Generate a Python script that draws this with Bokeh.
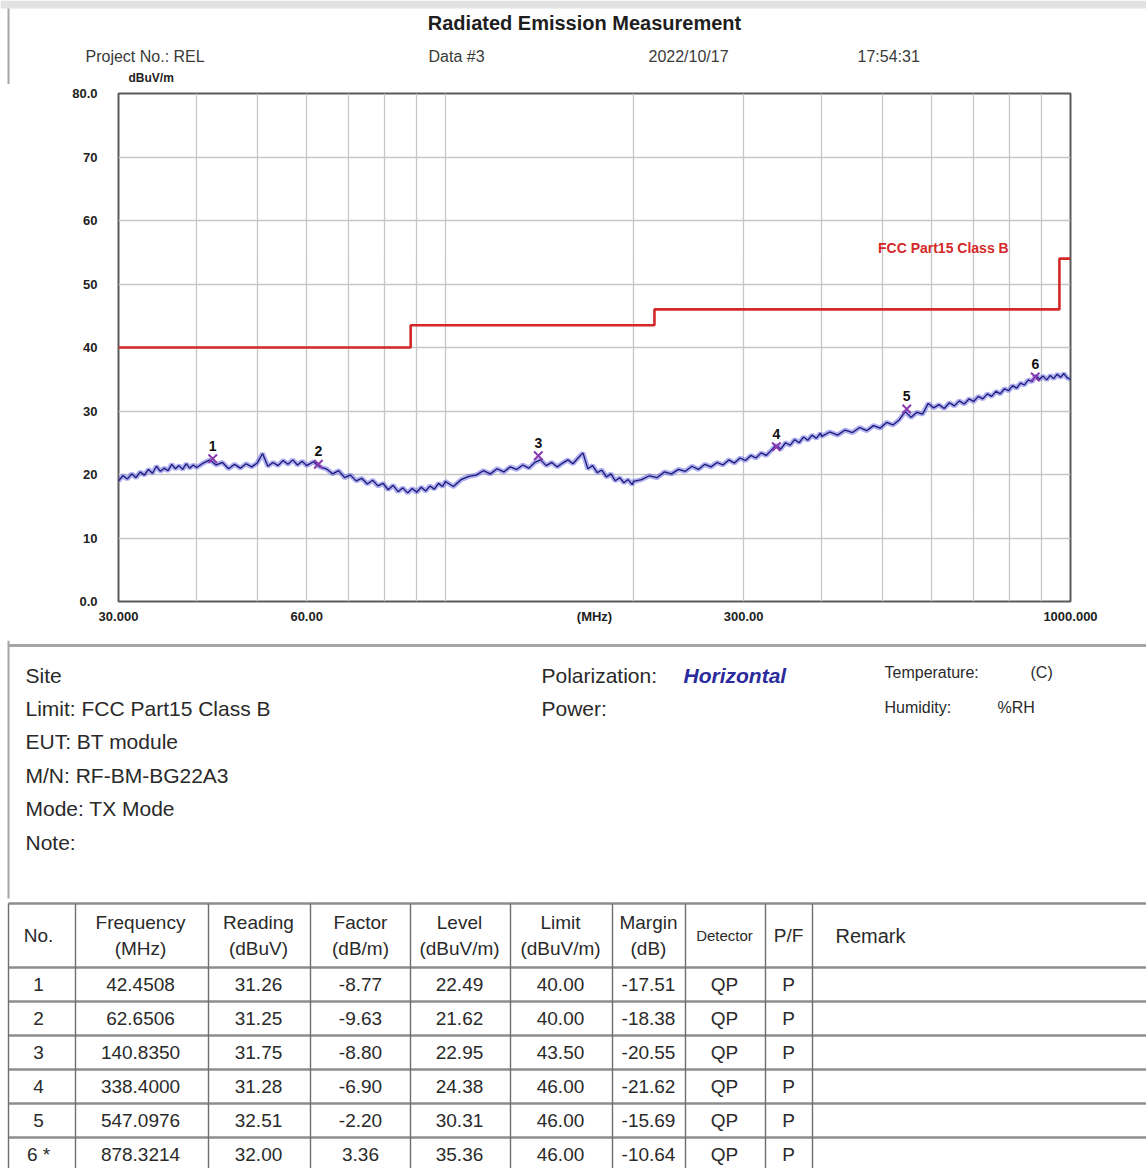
from bokeh.plotting import figure
from bokeh.models import FixedTicker, Label, Range1d, ColumnDataSource
from bokeh.layouts import column
from bokeh.embed import file_html
from bokeh.resources import INLINE
from bokeh.core.properties import value

# ---------------- data ----------------
trace_freq_mhz = [
    30, 30.5, 31, 31.5, 32, 32.5, 33, 33.5, 34, 34.5, 35, 35.5, 36, 36.5, 37, 37.5, 38, 38.5, 39, 39.5,
    40, 41, 42, 43, 44, 45, 46, 47, 48, 49, 50, 51, 52, 53, 54, 55, 56, 57, 58, 59,
    60, 61.5, 63, 64.5, 66, 67.5, 69, 70.5, 72, 73.5, 75, 76.5, 78, 79.5, 81, 82.5, 84, 85.5, 87, 88.5,
    90, 91.5, 93, 94.5, 96, 97.5, 99,
    100, 103, 106, 109, 112, 115, 118, 121, 124, 127, 130, 133, 136, 139, 142, 145, 148, 151, 154, 157,
    160, 163, 166, 169, 172, 175, 178, 181, 184, 187, 190, 193, 196, 199,
    200, 206, 212, 218, 224, 230, 236, 242, 248, 254, 260, 266, 272, 278, 284, 290, 296, 302, 308, 314,
    320, 326, 332, 338, 344, 350, 356, 362, 368, 374, 380, 386, 392, 398,
    400, 412, 424, 436, 448, 460, 472, 484, 496, 508, 520, 532, 544, 556, 568, 580, 592, 604, 616, 628,
    640, 652, 664, 676, 688, 700, 712, 724, 736, 748, 760, 772, 784, 796, 808, 820, 832, 844, 856, 868,
    880, 892, 904, 916, 928, 940, 952, 964, 976, 988, 1000,
]
trace_level_dbuv_m = [
    19.0, 19.8, 19.3, 20.1, 19.5, 20.4, 19.9, 20.8, 20.2, 21.3, 20.5, 21.0, 20.6, 21.6, 20.9, 21.4, 20.8, 21.7, 21.0, 21.5,
    21.1, 21.8, 22.3, 21.5, 21.9, 20.9, 21.6, 21.0, 21.7, 21.2, 21.8, 23.3, 21.3, 21.9, 21.4, 22.2, 21.6, 22.3, 21.5, 22.1,
    21.4, 22.0, 21.2, 20.9, 20.1, 20.6, 19.5, 19.9, 19.0, 19.4, 18.5, 19.1, 18.2, 18.6, 17.6, 18.3, 17.3, 17.9, 17.1, 17.8,
    17.2, 18.0, 17.4, 18.2, 17.7, 18.6, 18.1,
    18.9, 18.1, 19.2, 19.7, 19.9, 20.6, 20.1, 20.9, 20.4, 21.2, 20.8, 21.5, 21.0, 21.9, 22.3, 21.4, 21.9, 21.2, 21.8, 22.3,
    21.7, 22.6, 23.4, 20.9, 21.4, 20.3, 20.7, 19.6, 20.1, 19.0, 19.5, 18.7, 19.2, 18.4,
    18.9, 19.2, 19.8, 19.5, 20.4, 20.1, 20.8, 20.5, 21.3, 20.8, 21.6, 21.2, 21.9, 21.5, 22.3, 21.8, 22.6, 22.2, 23.0, 22.6,
    23.4, 23.0, 23.8, 24.6, 24.0, 25.0, 24.6, 25.5, 25.0, 25.9, 25.4, 26.2, 25.7, 26.5,
    26.0, 26.7, 26.2, 27.0, 26.6, 27.4, 26.9, 27.7, 27.3, 28.2, 27.8, 28.6, 29.9, 29.0, 29.8, 29.5, 31.2, 30.5, 31.0, 30.4,
    31.3, 30.8, 31.6, 31.1, 31.9, 31.5, 32.3, 31.9, 32.7, 32.3, 33.1, 32.7, 33.5, 33.2, 34.0, 33.6, 34.4, 34.1, 34.9, 34.6,
    35.6, 35.0, 35.5, 34.9, 35.6, 35.1, 35.8, 35.3, 35.9, 35.2, 35.0,
]

limit_edges_mhz = [30, 88, 216, 960, 1000]
limit_levels_dbuv_m = [40.0, 43.5, 46.0, 54.0, 54.0]
limit_name = "FCC Part15 Class B"

marker_ids = ["1", "2", "3", "4", "5", "6"]
table_no = ["1", "2", "3", "4", "5", "6 *"]
marker_freq_mhz = [42.4508, 62.6506, 140.8350, 338.4000, 547.0976, 878.3214]
marker_reading = [31.26, 31.25, 31.75, 31.28, 32.51, 32.00]
marker_factor = [-8.77, -9.63, -8.80, -6.90, -2.20, 3.36]
marker_level = [22.49, 21.62, 22.95, 24.38, 30.31, 35.36]
marker_limit = [40.00, 40.00, 43.50, 46.00, 46.00, 46.00]
marker_margin = [-17.51, -18.38, -20.55, -21.62, -15.69, -10.64]
marker_detector = ["QP", "QP", "QP", "QP", "QP", "QP"]
marker_pf = ["P", "P", "P", "P", "P", "P"]

x_tick_values = [30, 60, 300, 1000]
x_tick_labels = ["30.000", "60.00", "300.00", "1000.000"]
x_grid_values = [40, 50, 60, 70, 80, 90, 100, 200, 300, 400, 500, 600, 700, 800, 900]
y_tick_values = [0, 10, 20, 30, 40, 50, 60, 70, 80]
y_tick_labels = ["0.0", "10", "20", "30", "40", "50", "60", "70", "80.0"]

header_title = "Radiated Emission Measurement"
header_items = ["Project No.: REL", "Data #3", "2022/10/17", "17:54:31"]
y_unit_label = "dBuV/m"
info_left = ["Site", "Limit: FCC Part15 Class B", "EUT:  BT module", "M/N:  RF-BM-BG22A3",
             "Mode:  TX Mode", "Note:"]
info_mid = ["Polarization:", "Power:"]
polarization = "Horizontal"
info_right = ["Temperature:", "(C)", "Humidity:", "%RH"]
table_headers = ["No.", "Frequency\n(MHz)", "Reading\n(dBuV)", "Factor\n(dB/m)", "Level\n(dBuV/m)",
                 "Limit\n(dBuV/m)", "Margin\n(dB)", "Detector", "P/F", "Remark"]

# ---------------- styling / layout constants ----------------
SANS = "Liberation Sans"
TXT = "#2a2a2a"
W = 1146
HH = 84     # header strip height
CH = 556    # chart figure height
BH = 528    # info + table height


def plain_fig(height):
    f = figure(width=W, height=height, x_range=Range1d(0, W), y_range=Range1d(height, 0),
               output_backend="svg", toolbar_location=None, min_border=0,
               x_axis_location=None, y_axis_location=None)
    f.grid.visible = False
    f.outline_line_color = None
    f.background_fill_color = "white"
    f.border_fill_color = "white"
    f.frame_align = False
    return f


# ---------------- header ----------------
h = plain_fig(HH)
h.quad(left=[0], right=[W], top=[0], bottom=[8], fill_color="#e2e2e2", line_color=None)
h.segment(x0=[8], y0=[8], x1=[8], y1=[HH], line_color="#a6a6a6", line_width=2)
h.text(x=[584], y=[22], text=[header_title], text_align="center", text_baseline="middle",
       text_font=value(SANS), text_font_style="bold", text_font_size="20px", text_color="#1e1e1e")
h.text(x=[85, 428, 648, 857], y=[56] * 4, text=header_items, text_baseline="middle",
       text_font=value(SANS), text_font_size="16px", text_color="#3a3a3a")
h.text(x=[128], y=[77], text=[y_unit_label], text_baseline="middle",
       text_font=value(SANS), text_font_style="bold", text_font_size="12px", text_color="#222222")

# ---------------- chart ----------------
p = figure(width=W, height=CH, x_axis_type="log",
           x_range=Range1d(30, 1000), y_range=Range1d(0, 80),
           output_backend="svg", toolbar_location=None,
           min_border_left=118, min_border_right=76, min_border_top=9, min_border_bottom=39)
p.frame_align = False
p.background_fill_color = "white"
p.border_fill_color = "white"
p.outline_line_color = "#5a5a5a"
p.outline_line_width = 2

p.xaxis.ticker = FixedTicker(ticks=x_tick_values)
p.xaxis.major_label_overrides = dict(zip(x_tick_values, x_tick_labels))
p.yaxis.ticker = FixedTicker(ticks=y_tick_values)
p.yaxis.major_label_overrides = dict(zip(y_tick_values, y_tick_labels))
for ax in (p.xaxis[0], p.yaxis[0]):
    ax.axis_line_color = None
    ax.major_tick_line_color = None
    ax.minor_tick_line_color = None
    ax.major_label_text_font = SANS
    ax.major_label_text_font_style = "bold"
    ax.major_label_text_font_size = "13px"
    ax.major_label_text_color = "#222222"
p.yaxis.major_label_standoff = 15
p.xaxis.major_label_standoff = 4
p.xaxis.axis_label = "(MHz)"
p.xaxis.axis_label_text_font = SANS
p.xaxis.axis_label_text_font_style = "bold"
p.xaxis.axis_label_text_font_size = "13px"
p.xaxis.axis_label_text_color = "#222222"
p.xaxis.axis_label_standoff = -15

p.xgrid.ticker = FixedTicker(ticks=x_grid_values)
p.ygrid.ticker = FixedTicker(ticks=[10, 20, 30, 40, 50, 60, 70])
p.xgrid.grid_line_color = "#c6c6c6"
p.ygrid.grid_line_color = "#c6c6c6"
p.xgrid.grid_line_width = 1.3
p.ygrid.grid_line_width = 1.3

# limit line
p.step(limit_edges_mhz, limit_levels_dbuv_m, mode="after", line_color="#d42828", line_width=2.6)
p.add_layout(Label(x=626, y=55.6, text=limit_name, text_align="center", text_baseline="middle",
                   text_font=SANS, text_font_style="bold", text_font_size="14px",
                   text_color="#d42828"))

# trace
p.line(trace_freq_mhz, trace_level_dbuv_m, line_color="#5050e0", line_width=5.0, line_alpha=0.45)
p.line(trace_freq_mhz, trace_level_dbuv_m, line_color="#1a1a78", line_width=1.3)

# markers
msrc = ColumnDataSource(dict(f=marker_freq_mhz, lvl=marker_level, id=marker_ids))
p.scatter("f", "lvl", source=msrc, marker="x", size=12, line_color="#8a3ab0", line_width=2)
p.text("f", "lvl", text="id", source=msrc, y_offset=-8, text_align="center", text_baseline="bottom",
       text_font=value(SANS), text_font_style="bold", text_font_size="14px", text_color="#111111")

# ---------------- info + table ----------------
b = plain_fig(BH)
b.segment(x0=[8], y0=[5], x1=[W], y1=[5], line_color="#a6a6a6", line_width=3)
b.segment(x0=[8], y0=[0], x1=[8], y1=[258], line_color="#a6a6a6", line_width=2)

info_y = [35, 68, 101, 135, 168, 202]
b.text(x=[25] * len(info_left), y=info_y, text=info_left, text_baseline="middle",
       text_font=value(SANS), text_font_size="21px", text_color=TXT)
b.text(x=[541, 541], y=[35, 68], text=info_mid, text_baseline="middle",
       text_font=value(SANS), text_font_size="21px", text_color=TXT)
b.text(x=[683], y=[35], text=[polarization], text_baseline="middle",
       text_font=value(SANS), text_font_size="21px", text_font_style="bold italic",
       text_color="#2b2b9c")
b.text(x=[884, 1030, 884, 997], y=[32, 32, 67, 67], text=info_right,
       text_baseline="middle", text_font=value(SANS), text_font_size="16px", text_color=TXT)

# table grid
col_edges = [8, 75, 208, 310, 410, 510, 612, 685, 765, 812]
row_edges = [263, 327, 361, 395, 429, 463, 497, 531]
b.segment(x0=[8] * len(row_edges), y0=row_edges, x1=[W] * len(row_edges), y1=row_edges,
          line_color="#8e8e8e", line_width=2.6)
b.segment(x0=col_edges, y0=[row_edges[0]] * len(col_edges), x1=col_edges,
          y1=[row_edges[-1]] * len(col_edges), line_color="#6e6e6e", line_width=1.4)

col_center = [38, 140, 258, 360, 459, 560, 648, 724, 788]
head_y = (row_edges[0] + row_edges[1]) / 2
for i, hd in enumerate(table_headers):
    if i == len(table_headers) - 1:
        b.text(x=[835], y=[head_y], text=[hd], text_baseline="middle", text_font=value(SANS),
               text_font_size="20px", text_color=TXT)
        continue
    size = "15px" if hd == "Detector" else "19px"
    b.text(x=[col_center[i]], y=[head_y], text=[hd], text_align="center", text_baseline="middle",
           text_font=value(SANS), text_font_size=size, text_color=TXT, text_line_height=1.2)

row_mid = [(row_edges[k] + row_edges[k + 1]) / 2 for k in range(1, len(row_edges) - 1)]
cols = [
    table_no,
    [f"{v:.4f}" for v in marker_freq_mhz],
    [f"{v:.2f}" for v in marker_reading],
    [f"{v:.2f}" for v in marker_factor],
    [f"{v:.2f}" for v in marker_level],
    [f"{v:.2f}" for v in marker_limit],
    [f"{v:.2f}" for v in marker_margin],
    marker_detector,
    marker_pf,
]
for i, colvals in enumerate(cols):
    b.text(x=[col_center[i]] * len(colvals), y=row_mid, text=colvals, text_align="center",
           text_baseline="middle", text_font=value(SANS), text_font_size="19px",
           text_color=TXT)

layout = column(h, p, b)
open("out.html", "w").write(file_html(layout, INLINE))
